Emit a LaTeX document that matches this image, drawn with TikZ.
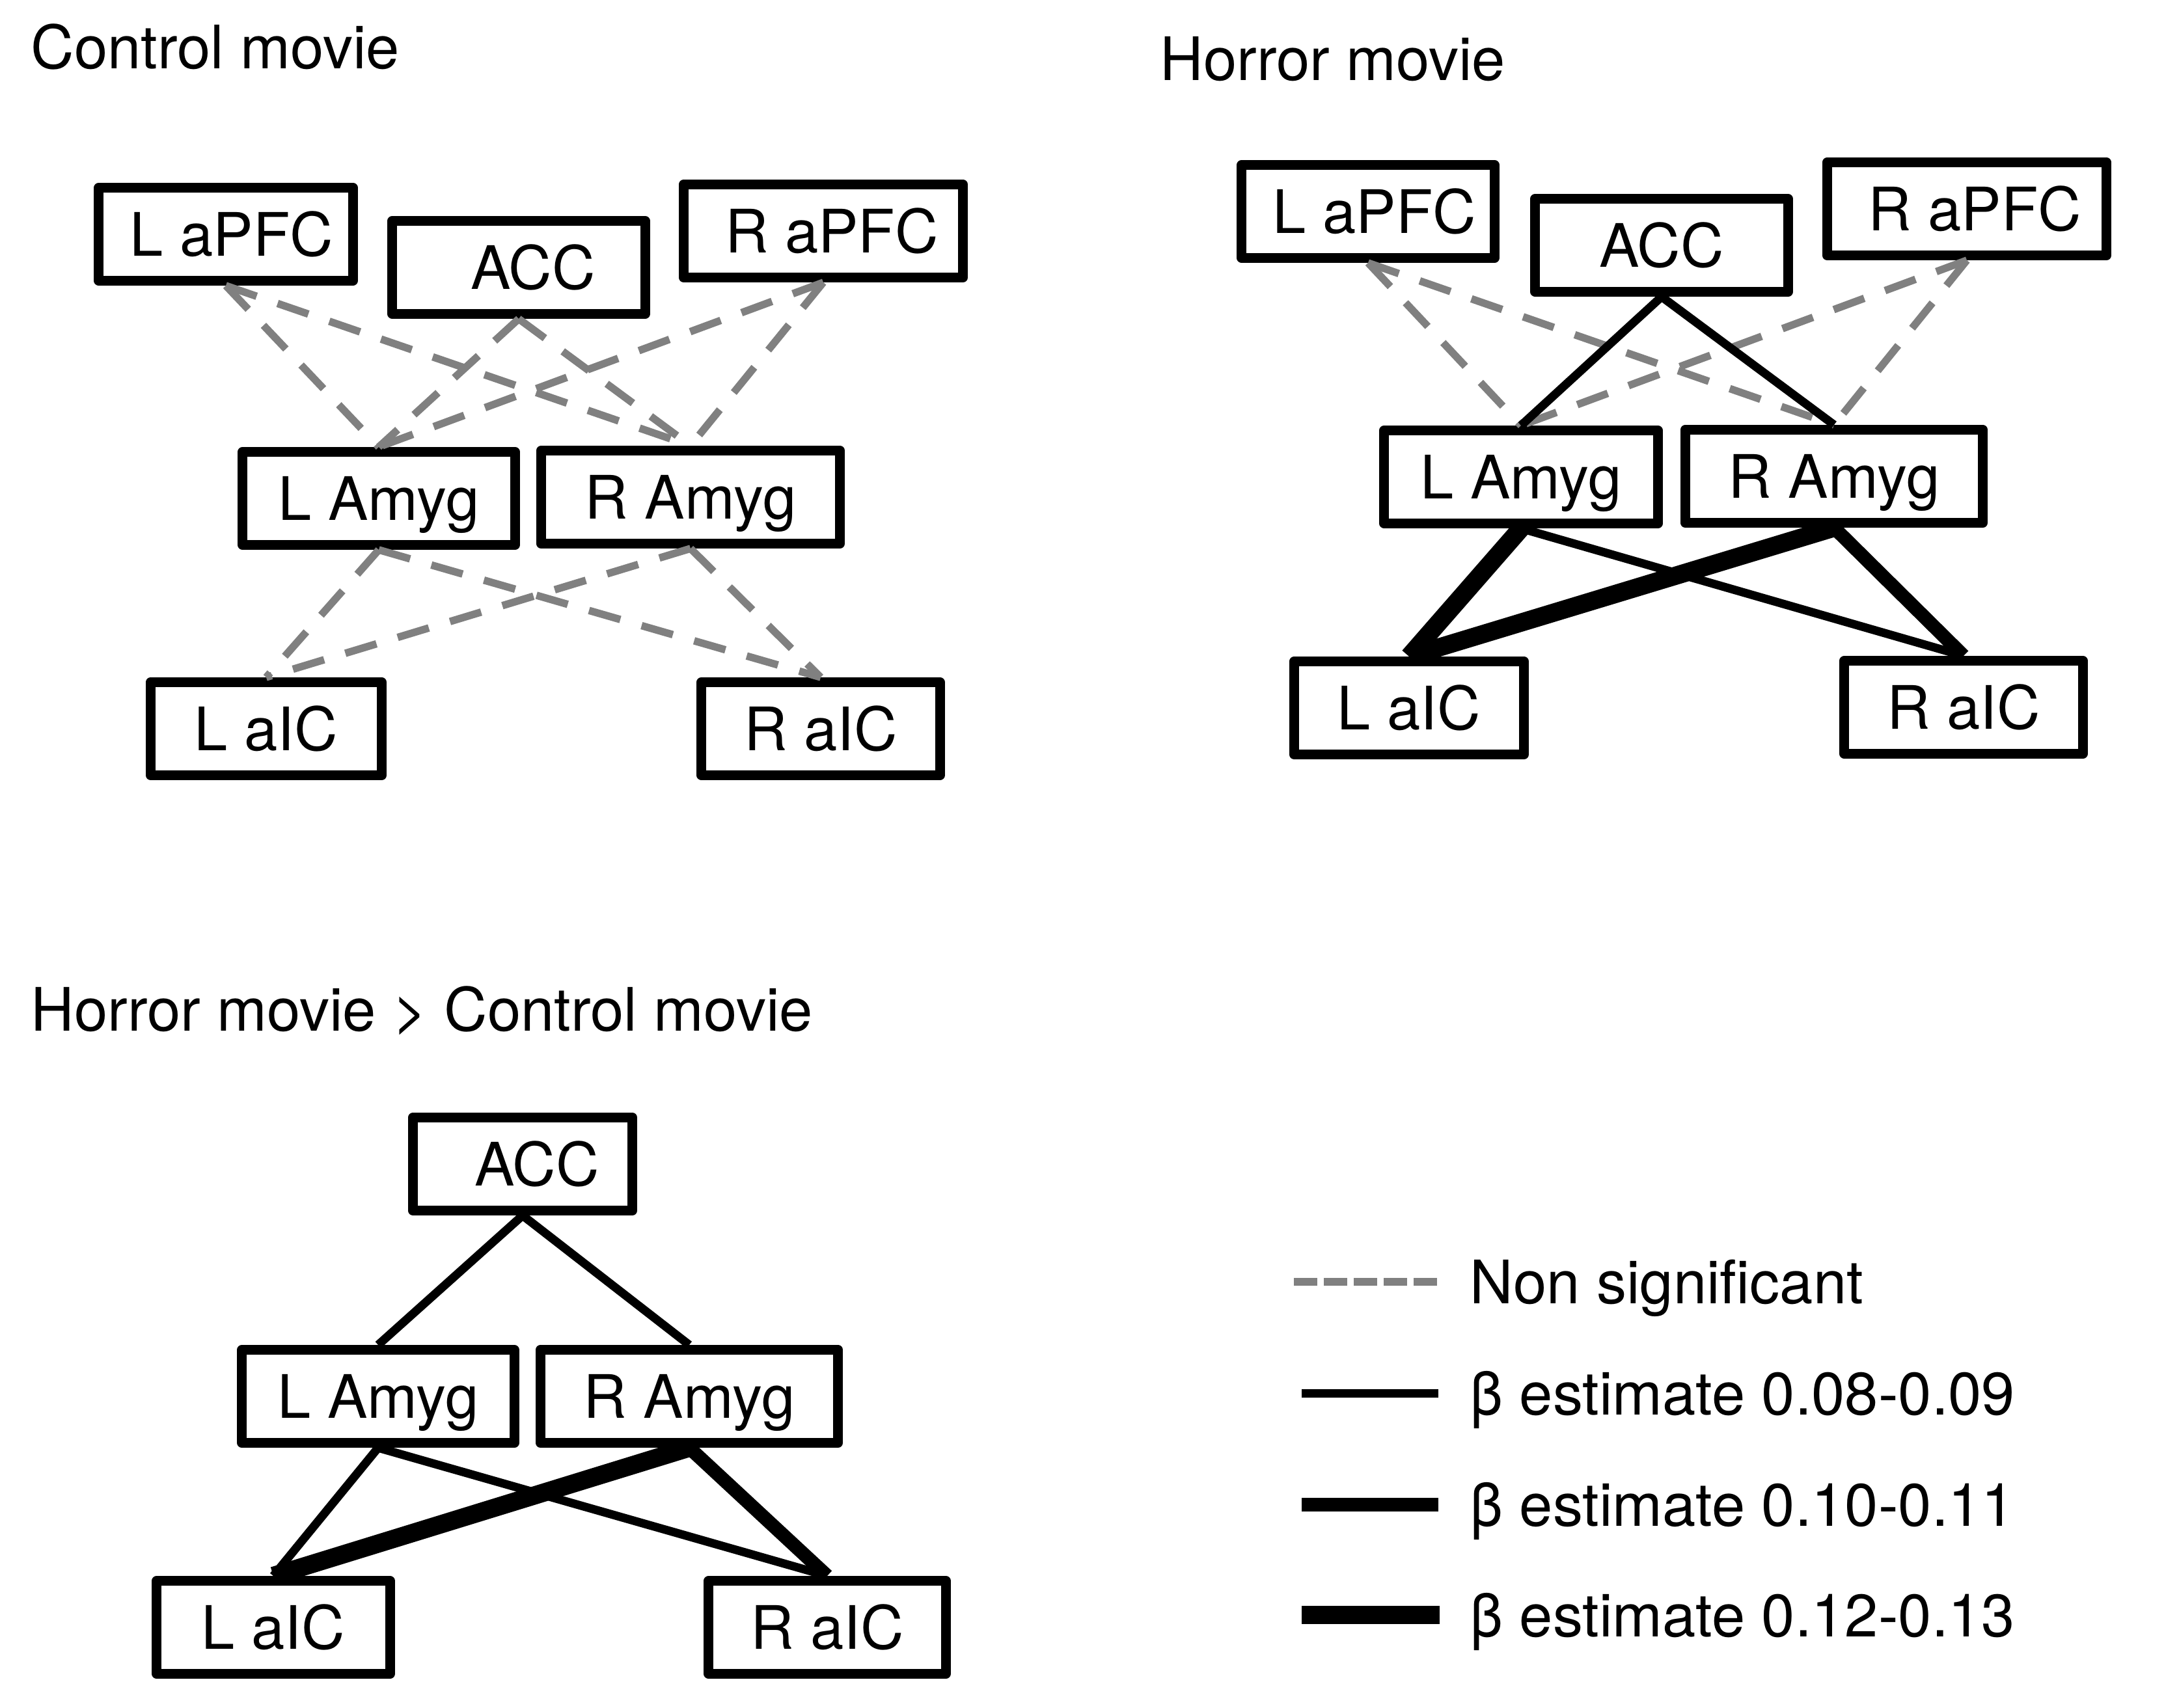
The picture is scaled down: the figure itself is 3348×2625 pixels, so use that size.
\documentclass[tikz,border=0pt]{standalone}
\usepackage{fontspec}
\setmainfont{TeX Gyre Heros}
\newcommand\figfont{\fontsize{26.2pt}{31pt}\selectfont}
\begin{document}
\begin{tikzpicture}[x=0.01cm,y=-0.01cm,
  box/.style={draw,line width=0.15cm,line join=round,fill=white,inner sep=0pt,
    minimum height=1.43cm,text height=0.66cm,text depth=0pt,font=\figfont},
  ttl/.style={inner sep=0pt,font=\figfont,anchor=base west},
  legtext/.style={inner sep=0pt,font=\figfont,anchor=west,text height=0.66cm,text depth=0pt},
  ns/.style={draw=gray,line width=0.115cm,dash pattern=on 0.5cm off 0.34cm},
  nsleg/.style={draw=gray,line width=0.115cm,dash pattern=on 0.36cm off 0.10cm},
  bthin/.style={draw=black,line width=0.13cm},
  bmed/.style={draw=black,line width=0.21cm},
  bthick/.style={draw=black,line width=0.28cm}]
\useasboundingbox (0,0) rectangle (3348,2625);

% ---------- Control movie ----------
\node[ttl] (tC) at (47,106) {Control movie};
\node[box,minimum width=3.90cm] (cLaPFC) at (347,360) {\hspace*{0.18cm}L aPFC};
\node[box,minimum width=3.88cm] (cACC) at (797,411) {\hspace*{0.44cm}ACC};
\node[box,minimum width=4.29cm] (cRaPFC) at (1265,355) {\hspace*{0.26cm}R aPFC};
\node[box,minimum width=4.18cm] (cLAmyg) at (582,766) {L Amyg};
\node[box,minimum width=4.59cm] (cRAmyg) at (1061,764) {R Amyg};
\node[box,minimum width=3.55cm] (cLaIC) at (409,1120) {L aIC};
\node[box,minimum width=3.66cm] (cRaIC) at (1261,1120) {R aIC};
\draw[ns] (cLaPFC.south) -- (cLAmyg.north);
\draw[ns] (cLaPFC.south) -- (cRAmyg.north);
\draw[ns] (cACC.south) -- (cLAmyg.north);
\draw[ns] (cACC.south) -- (cRAmyg.north);
\draw[ns] (cRaPFC.south) -- (cLAmyg.north);
\draw[ns] (cRaPFC.south) -- (cRAmyg.north);
\draw[ns] (cLAmyg.south) -- (cLaIC.north);
\draw[ns] (cLAmyg.south) -- (cRaIC.north);
\draw[ns] (cRAmyg.south) -- (cLaIC.north);
\draw[ns] (cRAmyg.south) -- (cRaIC.north);

% ---------- Horror movie ----------
\node[ttl] (tH) at (1782,124) {Horror movie};
\node[box,minimum width=3.88cm] (hLaPFC) at (2102,325) {\hspace*{0.2cm}L aPFC};
\node[box,minimum width=3.88cm] (hACC) at (2553,377) {ACC};
\node[box,minimum width=4.29cm] (hRaPFC) at (3022,321) {\hspace*{0.24cm}R aPFC};
\node[box,minimum width=4.20cm] (hLAmyg) at (2337,733) {L Amyg};
\node[box,minimum width=4.57cm] (hRAmyg) at (2818,732) {R Amyg};
\node[box,minimum width=3.53cm] (hLaIC) at (2165,1088) {L aIC};
\node[box,minimum width=3.66cm] (hRaIC) at (3017,1087) {R aIC};
\draw[ns] (hLaPFC.south) -- (hLAmyg.north);
\draw[ns] (hLaPFC.south) -- (hRAmyg.north);
\draw[ns] (hRaPFC.south) -- (hLAmyg.north);
\draw[ns] (hRaPFC.south) -- (hRAmyg.north);
\draw[bthin] (hACC.south) -- (hLAmyg.north);
\draw[bthin] (hACC.south) -- (hRAmyg.north);
\draw[bthick] (hLAmyg.south) -- (hLaIC.north);
\draw[bthin] (hLAmyg.south) -- (hRaIC.north);
\draw[bthick] (hRAmyg.south) -- (hLaIC.north);
\draw[bmed] (hRAmyg.south) -- (hRaIC.north);

% ---------- Horror movie > Control movie ----------
\node[ttl] (tD) at (47,1584) {Horror movie > Control movie};
\node[box,minimum width=3.37cm] (bACC) at (803,1789) {\hspace*{0.44cm}ACC};
\node[box,minimum width=4.18cm] (bLAmyg) at (581,2146) {L Amyg};
\node[box,minimum width=4.57cm] (bRAmyg) at (1059,2146) {R Amyg};
\node[box,minimum width=3.58cm] (bLaIC) at (420,2501) {L aIC};
\node[box,minimum width=3.64cm] (bRaIC) at (1271,2501) {R aIC};
\draw[bthin] (bACC.south) -- (bLAmyg.north);
\draw[bthin] (bACC.south) -- (bRAmyg.north);
\draw[bthin] (bLAmyg.south) -- (bLaIC.north);
\draw[bthin] (bLAmyg.south) -- (bRaIC.north);
\draw[bthick] (bRAmyg.south) -- (bLaIC.north);
\draw[bmed] (bRAmyg.south) -- (bRaIC.north);

% ---------- Legend ----------
\coordinate (l1a) at (1988,1970); \coordinate (l1b) at (2208,1970);
\coordinate (l2a) at (2000,2141); \coordinate (l2b) at (2210,2141);
\coordinate (l3a) at (2000,2312); \coordinate (l3b) at (2210,2312);
\coordinate (l4a) at (2000,2482); \coordinate (l4b) at (2212,2482);
\draw[nsleg] (l1a) -- (l1b);
\draw[bthin] (l2a) -- (l2b);
\draw[bmed] (l3a) -- (l3b);
\draw[bthick] (l4a) -- (l4b);
\node[legtext] (lt1) at (2258,1970) {Non significant};
\node[legtext] (lt2) at (2258,2141) {β estimate 0.08-0.09};
\node[legtext] (lt3) at (2258,2312) {β estimate 0.10-0.11};
\node[legtext] (lt4) at (2258,2482) {β estimate 0.12-0.13};
\end{tikzpicture}
\end{document}
